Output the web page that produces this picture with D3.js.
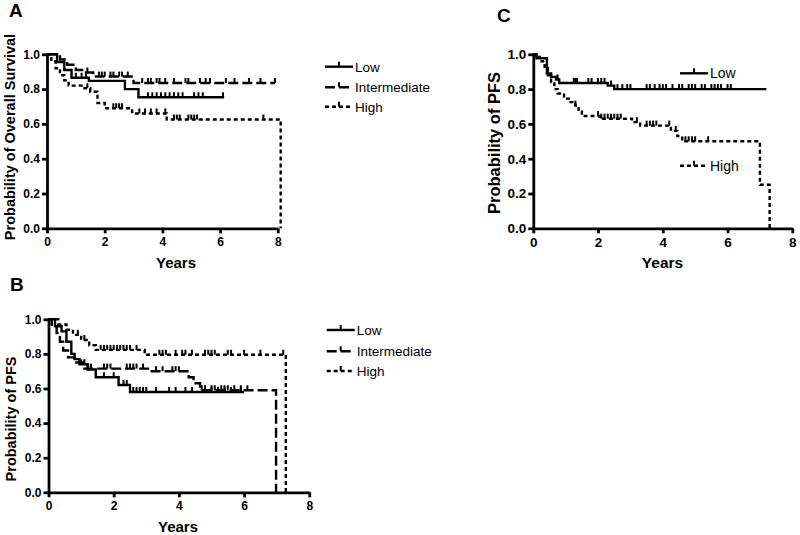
<!DOCTYPE html>
<html lang="en">
<head>
<meta charset="UTF-8">
<title>Kaplan-Meier curves</title>
<script src="https://d3js.org/d3.v7.min.js"></script>
<style>
  body { margin: 0; background: #fff; }
  svg { display: block; font-family: Arial, 'Liberation Sans', sans-serif; }
  .axis path, .axis line { stroke: #000; stroke-width: 2.8px; }
  .axis text { font-weight: bold; fill: #000; font-family: Arial, 'Liberation Sans', sans-serif; }
  .curve { fill: none; stroke: #000; stroke-width: 2.4px; }
  .cens { stroke: #000; stroke-width: 2px; }
  .ttl { font-weight: bold; fill: #000; }
  .leg text { fill: #000; }
</style>
</head>
<body>
<svg width="800" height="535"></svg>
<script>
// ---- data (years, survival probability) ----
var xTicks = [0, 2, 4, 6, 8];
var yTicks = [0, 0.2, 0.4, 0.6, 0.8, 1.0];
var groups = ["Low", "Intermediate", "High"];

// panel A: overall survival
var aLowT  = [0, 0.35, 0.6, 0.85, 1.45, 2.7, 3.17, 6.14];
var aLowS  = [1, 0.955, 0.91, 0.865, 0.847, 0.80, 0.753, 0.753];
var aLowC  = [1.0, 1.2, 1.35, 3.5, 3.65, 3.8, 3.95, 4.1, 4.25, 4.4, 4.55, 4.7, 5.1, 5.25, 5.4, 6.1];
var aIntT  = [0, 0.45, 0.7, 1.0, 1.3, 1.6, 3.0, 7.9];
var aIntS  = [1, 0.97, 0.94, 0.91, 0.895, 0.872, 0.835, 0.835];
var aIntC  = [1.4, 1.8, 1.9, 2.0, 2.2, 2.3, 2.5, 2.6, 2.8, 3.3, 3.5, 3.6, 3.8, 3.9, 4.1, 4.4, 4.8, 4.9, 5.3, 5.5, 5.65, 6.2, 6.5, 7.0, 7.4, 7.9];
var aHighT = [0, 0.15, 0.3, 0.45, 0.6, 0.75, 1.3, 1.5, 1.75, 2.0, 2.95, 4.15, 8.1];
var aHighS = [1, 0.96, 0.92, 0.88, 0.85, 0.82, 0.805, 0.785, 0.72, 0.69, 0.66, 0.625, 0];
var aHighC = [1.4, 2.3, 2.4, 2.5, 2.6, 3.2, 3.4, 3.6, 3.8, 4.1, 4.4, 4.5, 4.6, 4.9, 5.0, 5.1, 5.2, 7.5];

// panel B: PFS by three groups
var bLowT  = [0, 0.2, 0.4, 0.55, 0.7, 0.8, 0.95, 1.2, 1.45, 2.15, 2.5, 6.0];
var bLowS  = [1, 0.96, 0.93, 0.87, 0.8, 0.77, 0.74, 0.71, 0.665, 0.62, 0.58, 0.58];
var bLowC  = [1.0, 1.1, 1.3, 1.7, 2.0, 2.3, 2.4, 2.6, 2.7, 2.8, 2.9, 3.0, 3.3, 3.7, 3.9, 4.2, 4.4, 5.0, 5.2, 5.4, 5.6, 5.9];
var bIntT  = [0, 0.1, 0.25, 0.35, 0.45, 0.6, 0.8, 1.05, 3.1, 4.3, 4.45, 4.65, 6.98];
var bIntS  = [1, 0.96, 0.92, 0.87, 0.82, 0.78, 0.75, 0.715, 0.70, 0.665, 0.63, 0.59, 0];
var bIntC  = [1.2, 1.3, 1.7, 1.8, 1.9, 2.4, 2.5, 2.6, 2.7, 2.9, 3.3, 3.5, 3.8, 3.9, 4.0, 4.7, 4.8, 5.0, 5.1, 5.3, 5.4, 5.5, 5.7, 5.9, 6.1];
var bHighT = [0, 0.3, 0.55, 0.75, 1.0, 1.25, 1.45, 2.95, 7.28];
var bHighS = [1, 0.97, 0.94, 0.91, 0.88, 0.85, 0.823, 0.795, 0];
var bHighC = [0.9, 1.1, 1.6, 1.7, 1.8, 1.9, 2.0, 2.1, 2.2, 2.3, 2.4, 2.5, 2.7, 3.4, 3.5, 3.6, 3.9, 4.1, 4.2, 4.4, 4.8, 4.9, 5.0, 5.1, 5.5, 5.6, 6.0, 6.5, 7.2];

// panel C: PFS, two groups
var cLowT  = [0, 0.1, 0.42, 0.55, 0.7, 0.8, 2.3, 2.5, 7.2];
var cLowS  = [1, 0.977, 0.89, 0.87, 0.855, 0.835, 0.82, 0.80, 0.80];
var cLowC  = [0.75, 1.25, 1.3, 1.35, 1.7, 1.8, 2.0, 2.1, 2.2, 2.4, 2.6, 2.75, 2.9, 3.0, 3.5, 3.6, 3.75, 3.9, 4.0, 4.1, 4.3, 4.5, 4.6, 4.8, 4.9, 5.0, 5.2, 5.3, 5.5, 5.6, 5.7, 5.8, 6.0, 6.1];
var cHighT = [0, 0.05, 0.2, 0.35, 0.45, 0.55, 0.65, 0.75, 0.95, 1.15, 1.3, 1.4, 1.5, 2.05, 3.05, 3.3, 4.25, 4.45, 4.6, 7.0, 7.3];
var cHighS = [1, 0.985, 0.96, 0.92, 0.88, 0.84, 0.80, 0.775, 0.745, 0.725, 0.705, 0.67, 0.645, 0.63, 0.61, 0.59, 0.56, 0.53, 0.50, 0.25, 0];
var cHighC = [1.3, 2.0, 2.1, 2.2, 2.3, 2.4, 2.5, 2.6, 2.7, 3.2, 3.5, 3.6, 3.7, 3.8, 4.2, 4.4, 4.7, 4.8, 4.9, 5.0, 5.4];

var dashes = { "Low": null, "Intermediate": "10,4", "High": "4,3" };

var svg = d3.select("svg");

function mk(name, t, s, c) {
    return { name: name, pts: t.map(function(v, i) { return [v, s[i]]; }), cens: c };
}

function survAt(pts, t) {
    var s = pts[0][1];
    pts.forEach(function(p) { if (p[0] <= t) s = p[1]; });
    return s;
}

function drawPanel(p) {
    var x = d3.scaleLinear().domain([0, p.xmax]).range([p.x0, p.x1]);
    var y = d3.scaleLinear().domain([0, 1]).range([p.y1, p.y0]);

    var line = d3.line()
        .x(function(d) { return x(d[0]); })
        .y(function(d) { return y(d[1]); })
        .curve(d3.curveStepAfter);

    p.series.forEach(function(sr) {
        svg.append("path")
            .attr("class", "curve")
            .attr("d", line(sr.pts))
            .attr("stroke-dasharray", dashes[sr.name]);
        svg.selectAll(null)
            .data(sr.cens)
            .enter().append("line")
            .attr("class", "cens")
            .attr("x1", function(d) { return x(d); })
            .attr("x2", function(d) { return x(d); })
            .attr("y1", function(d) { return y(survAt(sr.pts, d)); })
            .attr("y2", function(d) { return y(survAt(sr.pts, d)) - 5; });
    });

    svg.append("g")
        .attr("class", "axis")
        .style("font-size", p.tickFs + "px")
        .attr("transform", "translate(0," + p.y1 + ")")
        .call(d3.axisBottom(x).tickValues(xTicks).tickSize(5).tickSizeOuter(0).tickPadding(4))
        .selectAll("text").style("font-size", p.tickFs + "px");
    svg.append("g")
        .attr("class", "axis")
        .attr("transform", "translate(" + p.x0 + ",0)")
        .call(d3.axisLeft(y).tickValues(yTicks).tickFormat(d3.format(".1f")).tickSize(5).tickSizeOuter(0).tickPadding(2))
        .selectAll("text").style("font-size", p.tickFs + "px");

    svg.append("text").attr("class", "ttl")
        .attr("x", p.xlabX).attr("y", p.y1 + 40)
        .attr("text-anchor", "middle").style("font-size", p.xlabFs + "px")
        .text("Years");
    svg.append("text").attr("class", "ttl")
        .attr("transform", "translate(" + p.ylabX + "," + p.ylabY + ") rotate(-90)")
        .attr("text-anchor", "middle").style("font-size", p.ylabFs + "px")
        .text(p.ylab);
    svg.append("text").attr("class", "ttl")
        .attr("x", p.letterX).attr("y", p.letterY)
        .style("font-size", "19px")
        .text(p.letter);

    // legend
    p.legend.forEach(function(lg) {
        var g = svg.append("g").attr("class", "leg");
        g.append("line")
            .attr("x1", lg.x).attr("x2", lg.x + 28)
            .attr("y1", lg.y).attr("y2", lg.y)
            .attr("stroke", "#000").attr("stroke-width", 2.4)
            .attr("stroke-dasharray", dashes[lg.name]);
        g.append("line")
            .attr("x1", lg.x + 14).attr("x2", lg.x + 14)
            .attr("y1", lg.y).attr("y2", lg.y - 5)
            .attr("stroke", "#000").attr("stroke-width", 2);
        g.append("text")
            .attr("x", lg.x + 30).attr("y", lg.y).attr("dy", "0.36em")
            .style("font-size", p.legFs + "px")
            .text(lg.name);
    });
}

drawPanel({
    letter: "A", letterX: 9, letterY: 17,
    x0: 47, x1: 277.8, y0: 54.3, y1: 228.3, xmax: 8,
    tickFs: 12, xlabFs: 15, ylabFs: 14.5, legFs: 13.5,
    xlabX: 176, ylabX: 15, ylabY: 137,
    ylab: "Probability of Overall Survival",
    series: [mk("Low", aLowT, aLowS, aLowC), mk("Intermediate", aIntT, aIntS, aIntC), mk("High", aHighT, aHighS, aHighC)],
    legend: [{ name: groups[0], x: 325, y: 66.7 }, { name: groups[1], x: 325, y: 87.3 }, { name: groups[2], x: 325, y: 106.7 }]
});

drawPanel({
    letter: "B", letterX: 10, letterY: 291,
    x0: 48.5, x1: 309.3, y0: 319.3, y1: 492.3, xmax: 8,
    tickFs: 12, xlabFs: 15, ylabFs: 14.5, legFs: 13.5,
    xlabX: 178, ylabX: 16, ylabY: 419,
    ylab: "Probability of PFS",
    series: [mk("Low", bLowT, bLowS, bLowC), mk("Intermediate", bIntT, bIntS, bIntC), mk("High", bHighT, bHighS, bHighC)],
    legend: [{ name: groups[0], x: 326.7, y: 330 }, { name: groups[1], x: 326.7, y: 351.3 }, { name: groups[2], x: 326.7, y: 371 }]
});

drawPanel({
    letter: "C", letterX: 497, letterY: 21.5,
    x0: 533.3, x1: 792.3, y0: 54.3, y1: 228.3, xmax: 8,
    tickFs: 13.5, xlabFs: 15.5, ylabFs: 16.5, legFs: 14,
    xlabX: 662.5, ylabX: 500, ylabY: 143,
    ylab: "Probability of PFS",
    series: [mk("Low", cLowT, cLowS, cLowC), mk("High", cHighT, cHighS, cHighC)],
    legend: [{ name: groups[0], x: 680, y: 73.3 }, { name: groups[2], x: 680, y: 165.7 }]
});
</script>
</body>
</html>
